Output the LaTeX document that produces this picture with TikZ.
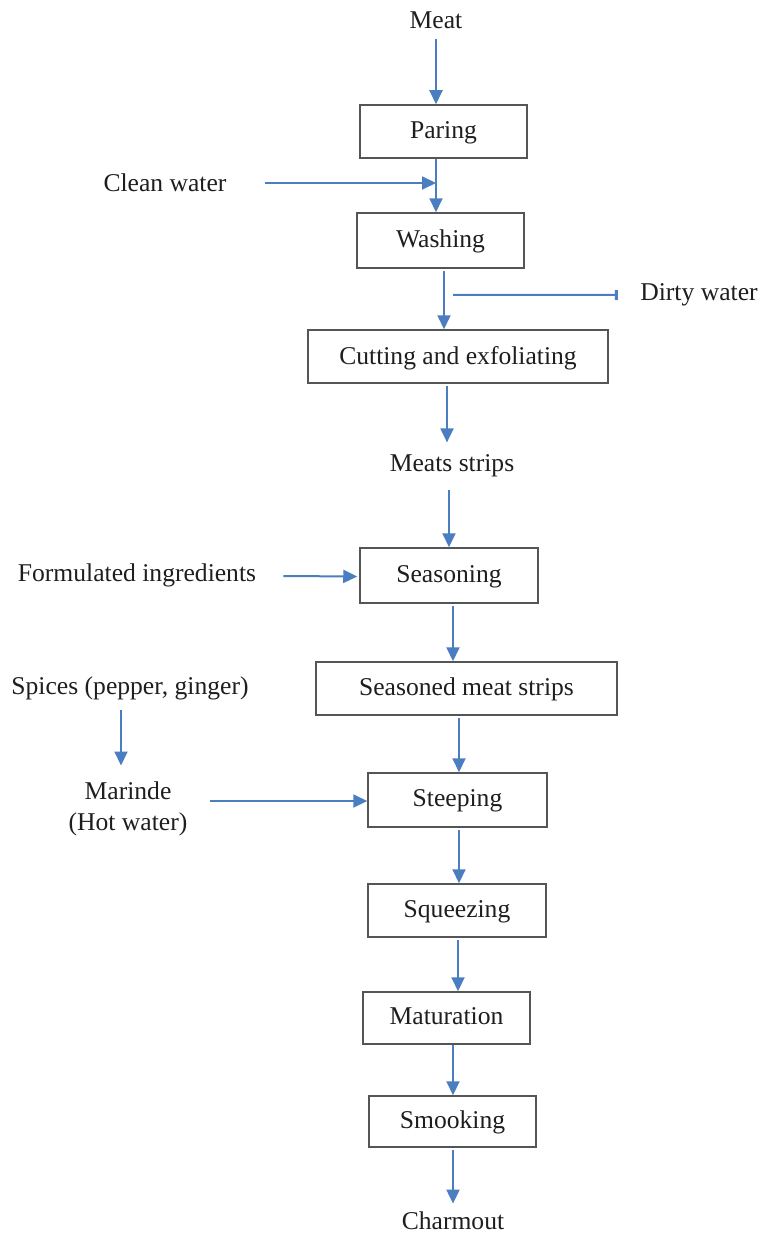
\documentclass[tikz,border=0pt]{standalone}
\usepackage{fontspec}
\setmainfont{Liberation Serif}
\usetikzlibrary{arrows.meta,calc}
\definecolor{arrblue}{HTML}{4A7EC0}
\definecolor{boxgray}{HTML}{555555}
\definecolor{txt}{HTML}{1E1E1E}
\begin{document}
\begin{tikzpicture}[x=0.5pt,y=-0.5pt,
  every node/.style={font=\fontsize{12.8}{15.5}\selectfont, text=txt},
  lbl/.style={inner sep=0pt, align=center},
  procbox/.style={draw=boxgray, line width=0.75pt, inner sep=0pt, text depth=1.5pt},
  arr/.style={draw=arrblue, line width=1pt, -{Triangle[length=7pt,width=6.5pt]}},
  stub/.style={draw=arrblue, line width=1pt, -{Rectangle[length=1.5pt,width=5pt]}}]
\useasboundingbox (0,0) rectangle (760,1236);
% labels
\node[lbl] (meat) at (436,20) {Meat};
\node[lbl] (cw) at (165,183) {Clean water};
\node[lbl] (dirty) at (699,295) {Dirty water};
\node[lbl] (strips) at (452,466) {Meats strips};
\node[lbl] (formul) at (137,575) {Formulated ingredients};
\node[lbl] (spices) at (130,688) {Spices (pepper, ginger)};
\node[lbl] (marinde) at (128,809) {Marinde\\(Hot water)};
\node[lbl] (charm) at (453,1221) {Charmout};
% boxes
\node[procbox, minimum width=83.5pt, minimum height=26.5pt] (paring) at (443.5,131.5) {Paring};
\node[procbox, minimum width=83.5pt, minimum height=27.5pt] (washing) at (440.5,240.5) {Washing};
\node[procbox, minimum width=150pt, minimum height=26.5pt] (cutting) at (458,356.5) {Cutting and exfoliating};
\node[procbox, minimum width=89pt, minimum height=27.5pt] (seasoning) at (449,575.5) {Seasoning};
\node[procbox, minimum width=150.5pt, minimum height=26.5pt] (seasoned) at (466.5,688.5) {Seasoned meat strips};
\node[procbox, minimum width=89.5pt, minimum height=27pt] (steeping) at (457.5,800) {Steeping};
\node[procbox, minimum width=89pt, minimum height=26.5pt] (squeezing) at (457,910.5) {Squeezing};
\node[procbox, minimum width=83.5pt, minimum height=26pt] (maturation) at (446.5,1018) {Maturation};
\node[procbox, minimum width=83.5pt, minimum height=25.5pt] (smooking) at (452.5,1121.5) {Smooking};
% anchor points for offset connectors
\coordinate (m0) at ($(meat.south)+(0,10)$);
\coordinate (cw0) at ($(cw.east)+(38,0)$);
\coordinate (w0) at ($(washing.south)+(3.5,2)$);
\coordinate (d0) at ($(washing.south)+(12.5,26)$);
\coordinate (d1) at ($(dirty.west)+(-22,0)$);
\coordinate (c0) at ($(cutting.south)+(-11,2)$);
\coordinate (c1) at ($(strips.north)+(-6,-12)$);
\coordinate (s0) at ($(strips.south)+(-3,12)$);
\coordinate (f0) at ($(formul.east)+(27,1)$);
\coordinate (f1) at ($(seasoning.west)+(-2,1)$);
\coordinate (sn0) at ($(seasoning.south)+(4,2)$);
\coordinate (sp0) at ($(spices.south)+(-9,10)$);
\coordinate (sp1) at ($(marinde.north)+(-7,-16)$);
\coordinate (mr0) at ($(marinde.east)+(22,-8)$);
\coordinate (mr1) at ($(steeping.west)+(0,1)$);
\coordinate (sd0) at ($(seasoned.south)+(-7.5,2)$);
\coordinate (st0) at ($(steeping.south)+(1.5,2)$);
\coordinate (sq0) at ($(squeezing.south)+(1,2)$);
\coordinate (mt0) at ($(maturation.south)+(6.5,0)$);
\coordinate (sm0) at ($(smooking.south)+(0.5,2)$);
\coordinate (ch0) at ($(charm.north)+(0,-8)$);
% connectors
\draw[arr] (m0) -- (m0 |- paring.north);
\draw[arr] (cw0) -- (meat.south |- cw.east);
\draw[arr] (meat.south |- paring.south) -- (meat.south |- washing.north);
\draw[arr] (w0) -- (w0 |- cutting.north);
\draw[stub] (d0) -- (d1);
\draw[arr] (c0) -- (c0 |- c1);
\draw[arr] (s0) -- (s0 |- seasoning.north);
\draw[arr] (f0) -- (f1);
\draw[arr] (sn0) -- (sn0 |- seasoned.north);
\draw[arr] (sp0) -- (sp0 |- sp1);
\draw[arr] (mr0) -- (mr1);
\draw[arr] (sd0) -- (sd0 |- steeping.north);
\draw[arr] (st0) -- (st0 |- squeezing.north);
\draw[arr] (sq0) -- (sq0 |- maturation.north);
\draw[arr] (mt0) -- (mt0 |- smooking.north);
\draw[arr] (sm0) -- (sm0 |- ch0);
\end{tikzpicture}
\end{document}
